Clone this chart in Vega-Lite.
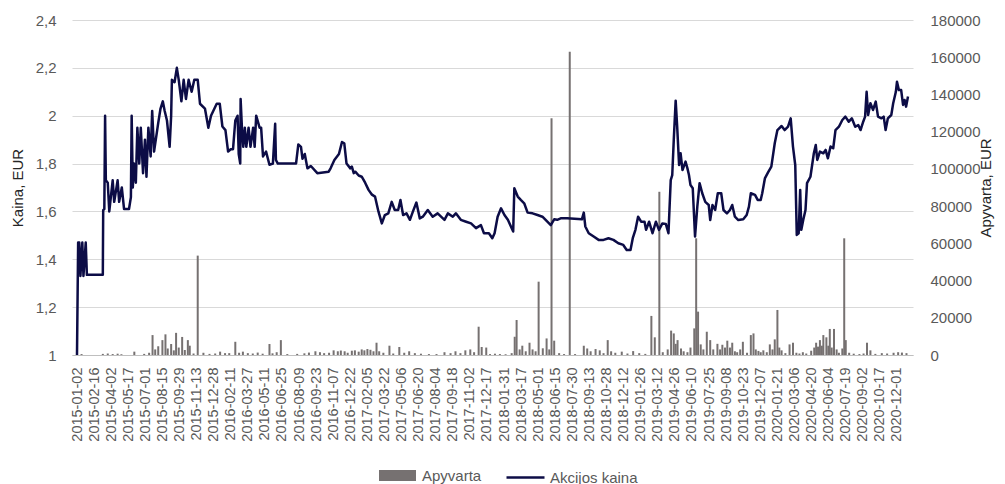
{
  "$schema": "https://vega.github.io/schema/vega-lite/v6.json",
  "width": 841,
  "height": 335,
  "autosize": {"type": "none"},
  "padding": {"left": 72, "top": 20, "right": 92, "bottom": 129},
  "background": "white",
  "config": {"font": "Liberation Sans", "view": {"stroke": null}, "axis": {"labelOverlap": false}, "axisX": {"labelOverlap": false, "labelFlush": false, "labelBound": false}},
  "datasets": {
    "price": [
      {"date":"2015-01-02","p":1.0},{"date":"2015-01-05","p":1.47},{"date":"2015-01-08","p":1.47},{"date":"2015-01-11","p":1.33},{"date":"2015-01-16","p":1.47},{"date":"2015-01-19","p":1.33},{"date":"2015-01-25","p":1.47},{"date":"2015-01-28","p":1.335},{"date":"2015-03-11","p":1.335},{"date":"2015-03-12","p":1.605},{"date":"2015-03-15","p":1.61},{"date":"2015-03-17","p":2.0},{"date":"2015-03-19","p":1.73},{"date":"2015-03-24","p":1.72},{"date":"2015-03-28","p":1.6},{"date":"2015-04-06","p":1.73},{"date":"2015-04-10","p":1.64},{"date":"2015-04-19","p":1.73},{"date":"2015-04-23","p":1.64},{"date":"2015-04-30","p":1.7},{"date":"2015-05-06","p":1.61},{"date":"2015-05-19","p":1.61},{"date":"2015-05-24","p":1.66},{"date":"2015-05-26","p":2.0},{"date":"2015-05-29","p":1.7},{"date":"2015-06-01","p":1.8},{"date":"2015-06-06","p":1.72},{"date":"2015-06-10","p":1.95},{"date":"2015-06-15","p":1.8},{"date":"2015-06-19","p":1.95},{"date":"2015-06-25","p":1.76},{"date":"2015-06-30","p":1.9},{"date":"2015-07-04","p":1.745},{"date":"2015-07-09","p":1.95},{"date":"2015-07-15","p":1.83},{"date":"2015-07-19","p":2.02},{"date":"2015-07-24","p":1.85},{"date":"2015-08-04","p":1.97},{"date":"2015-08-10","p":2.03},{"date":"2015-08-16","p":2.06},{"date":"2015-08-21","p":2.02},{"date":"2015-08-27","p":1.98},{"date":"2015-09-03","p":1.87},{"date":"2015-09-07","p":2.0},{"date":"2015-09-09","p":2.15},{"date":"2015-09-16","p":2.14},{"date":"2015-09-22","p":2.2},{"date":"2015-09-27","p":2.15},{"date":"2015-10-04","p":2.06},{"date":"2015-10-10","p":2.15},{"date":"2015-10-16","p":2.07},{"date":"2015-10-23","p":2.15},{"date":"2015-10-31","p":2.1},{"date":"2015-11-07","p":2.15},{"date":"2015-11-16","p":2.15},{"date":"2015-11-22","p":2.05},{"date":"2015-12-05","p":2.03},{"date":"2015-12-14","p":1.95},{"date":"2015-12-21","p":2.0},
      {"date":"2016-01-05","p":2.05},{"date":"2016-01-13","p":2.05},{"date":"2016-01-20","p":1.955},{"date":"2016-01-28","p":1.94},{"date":"2016-02-04","p":1.85},{"date":"2016-02-11","p":1.86},{"date":"2016-02-17","p":1.86},{"date":"2016-02-23","p":1.98},{"date":"2016-02-29","p":2.0},{"date":"2016-03-03","p":1.84},{"date":"2016-03-07","p":1.8},{"date":"2016-03-08","p":2.07},{"date":"2016-03-12","p":1.93},{"date":"2016-03-15","p":1.87},{"date":"2016-03-19","p":1.95},{"date":"2016-03-23","p":1.87},{"date":"2016-03-29","p":1.95},{"date":"2016-04-03","p":1.87},{"date":"2016-04-10","p":1.95},{"date":"2016-04-14","p":1.87},{"date":"2016-04-18","p":2.0},{"date":"2016-04-27","p":1.95},{"date":"2016-05-01","p":1.95},{"date":"2016-05-06","p":1.83},{"date":"2016-05-14","p":1.85},{"date":"2016-05-23","p":1.795},{"date":"2016-06-01","p":1.8},{"date":"2016-06-07","p":1.966},{"date":"2016-06-09","p":1.815},{"date":"2016-06-14","p":1.8},{"date":"2016-07-01","p":1.8},{"date":"2016-08-01","p":1.8},{"date":"2016-08-07","p":1.88},{"date":"2016-08-14","p":1.87},{"date":"2016-08-18","p":1.82},{"date":"2016-08-24","p":1.84},{"date":"2016-08-31","p":1.78},{"date":"2016-09-09","p":1.79},{"date":"2016-09-26","p":1.76},{"date":"2016-10-26","p":1.766},{"date":"2016-10-31","p":1.78},{"date":"2016-11-10","p":1.815},{"date":"2016-11-22","p":1.84},{"date":"2016-11-30","p":1.89},{"date":"2016-12-06","p":1.885},{"date":"2016-12-12","p":1.8},{"date":"2016-12-22","p":1.78},{"date":"2016-12-26","p":1.787},{"date":"2016-12-31","p":1.76},
      {"date":"2017-01-04","p":1.766},{"date":"2017-01-13","p":1.75},{"date":"2017-01-21","p":1.745},{"date":"2017-01-30","p":1.72},{"date":"2017-02-08","p":1.69},{"date":"2017-02-17","p":1.67},{"date":"2017-02-25","p":1.662},{"date":"2017-03-06","p":1.6},{"date":"2017-03-15","p":1.55},{"date":"2017-03-23","p":1.585},{"date":"2017-04-01","p":1.592},{"date":"2017-04-10","p":1.64},{"date":"2017-04-18","p":1.606},{"date":"2017-04-27","p":1.606},{"date":"2017-05-03","p":1.648},{"date":"2017-05-10","p":1.585},{"date":"2017-05-19","p":1.592},{"date":"2017-05-28","p":1.565},{"date":"2017-06-05","p":1.6},{"date":"2017-06-14","p":1.637},{"date":"2017-06-23","p":1.571},{"date":"2017-07-01","p":1.578},{"date":"2017-07-14","p":1.606},{"date":"2017-07-27","p":1.578},{"date":"2017-08-09","p":1.592},{"date":"2017-08-27","p":1.565},{"date":"2017-09-05","p":1.592},{"date":"2017-09-18","p":1.578},{"date":"2017-09-26","p":1.592},{"date":"2017-10-09","p":1.565},{"date":"2017-10-23","p":1.557},{"date":"2017-11-05","p":1.55},{"date":"2017-11-18","p":1.53},{"date":"2017-12-01","p":1.543},{"date":"2017-12-09","p":1.509},{"date":"2017-12-22","p":1.509},{"date":"2017-12-31","p":1.488},
      {"date":"2018-01-06","p":1.509},{"date":"2018-01-14","p":1.578},{"date":"2018-01-23","p":1.613},{"date":"2018-02-01","p":1.585},{"date":"2018-02-10","p":1.565},{"date":"2018-02-18","p":1.537},{"date":"2018-02-24","p":1.516},{"date":"2018-02-27","p":1.697},{"date":"2018-03-08","p":1.662},{"date":"2018-03-16","p":1.648},{"date":"2018-03-25","p":1.634},{"date":"2018-04-03","p":1.595},{"date":"2018-04-16","p":1.592},{"date":"2018-04-29","p":1.585},{"date":"2018-05-12","p":1.578},{"date":"2018-05-25","p":1.557},{"date":"2018-06-03","p":1.543},{"date":"2018-06-12","p":1.567},{"date":"2018-06-20","p":1.565},{"date":"2018-06-29","p":1.571},{"date":"2018-07-16","p":1.571},{"date":"2018-08-24","p":1.567},{"date":"2018-08-29","p":1.595},{"date":"2018-09-02","p":1.537},{"date":"2018-09-11","p":1.509},{"date":"2018-09-24","p":1.495},{"date":"2018-10-07","p":1.481},{"date":"2018-10-20","p":1.481},{"date":"2018-11-02","p":1.488},{"date":"2018-11-15","p":1.481},{"date":"2018-11-28","p":1.467},{"date":"2018-12-11","p":1.46},{"date":"2018-12-20","p":1.439},{"date":"2018-12-30","p":1.439},
      {"date":"2019-01-05","p":1.488},{"date":"2019-01-12","p":1.523},{"date":"2019-01-19","p":1.578},{"date":"2019-01-27","p":1.557},{"date":"2019-02-05","p":1.557},{"date":"2019-02-09","p":1.523},{"date":"2019-02-17","p":1.557},{"date":"2019-02-26","p":1.509},{"date":"2019-03-07","p":1.557},{"date":"2019-03-15","p":1.523},{"date":"2019-03-24","p":1.55},{"date":"2019-04-02","p":1.548},{"date":"2019-04-09","p":1.509},{"date":"2019-04-15","p":1.731},{"date":"2019-04-19","p":1.752},{"date":"2019-04-23","p":1.899},{"date":"2019-04-28","p":2.063},{"date":"2019-05-02","p":1.954},{"date":"2019-05-07","p":1.794},{"date":"2019-05-11","p":1.843},{"date":"2019-05-16","p":1.773},{"date":"2019-05-24","p":1.808},{"date":"2019-05-29","p":1.78},{"date":"2019-06-02","p":1.752},{"date":"2019-06-06","p":1.71},{"date":"2019-06-12","p":1.697},{"date":"2019-06-18","p":1.495},{"date":"2019-06-24","p":1.62},{"date":"2019-06-30","p":1.718},{"date":"2019-07-07","p":1.676},{"date":"2019-07-15","p":1.64},{"date":"2019-07-24","p":1.627},{"date":"2019-07-28","p":1.564},{"date":"2019-08-03","p":1.627},{"date":"2019-08-10","p":1.606},{"date":"2019-08-17","p":1.676},{"date":"2019-08-26","p":1.676},{"date":"2019-09-01","p":1.606},{"date":"2019-09-10","p":1.592},{"date":"2019-09-18","p":1.606},{"date":"2019-09-24","p":1.627},{"date":"2019-10-01","p":1.578},{"date":"2019-10-10","p":1.564},{"date":"2019-10-23","p":1.567},{"date":"2019-11-01","p":1.585},{"date":"2019-11-07","p":1.62},{"date":"2019-11-12","p":1.676},{"date":"2019-11-23","p":1.669},{"date":"2019-11-30","p":1.648},{"date":"2019-12-08","p":1.648},{"date":"2019-12-12","p":1.676},{"date":"2019-12-19","p":1.738},{"date":"2019-12-27","p":1.762},
      {"date":"2020-01-05","p":1.787},{"date":"2020-01-14","p":1.885},{"date":"2020-01-21","p":1.94},{"date":"2020-02-01","p":1.957},{"date":"2020-02-09","p":1.94},{"date":"2020-02-18","p":1.954},{"date":"2020-02-25","p":1.989},{"date":"2020-03-02","p":1.871},{"date":"2020-03-08","p":1.794},{"date":"2020-03-12","p":1.502},{"date":"2020-03-17","p":1.509},{"date":"2020-03-21","p":1.69},{"date":"2020-03-24","p":1.523},{"date":"2020-03-29","p":1.564},{"date":"2020-04-04","p":1.606},{"date":"2020-04-08","p":1.718},{"date":"2020-04-17","p":1.745},{"date":"2020-04-26","p":1.843},{"date":"2020-05-01","p":1.878},{"date":"2020-05-05","p":1.815},{"date":"2020-05-12","p":1.85},{"date":"2020-05-21","p":1.843},{"date":"2020-05-27","p":1.857},{"date":"2020-06-02","p":1.822},{"date":"2020-06-09","p":1.871},{"date":"2020-06-16","p":1.864},{"date":"2020-06-22","p":1.94},{"date":"2020-07-01","p":1.954},{"date":"2020-07-10","p":1.982},{"date":"2020-07-18","p":1.996},{"date":"2020-07-27","p":1.975},{"date":"2020-08-04","p":1.989},{"date":"2020-08-13","p":1.954},{"date":"2020-08-21","p":1.961},{"date":"2020-08-27","p":1.94},{"date":"2020-09-03","p":1.975},{"date":"2020-09-08","p":1.996},{"date":"2020-09-12","p":2.1},{"date":"2020-09-16","p":2.003},{"date":"2020-09-22","p":2.052},{"date":"2020-09-29","p":2.024},{"date":"2020-10-06","p":2.059},{"date":"2020-10-12","p":1.996},{"date":"2020-10-21","p":1.989},{"date":"2020-10-27","p":1.996},{"date":"2020-11-01","p":1.94},{"date":"2020-11-07","p":1.989},{"date":"2020-11-16","p":2.003},{"date":"2020-11-21","p":2.052},{"date":"2020-11-28","p":2.1},{"date":"2020-12-01","p":2.142},{"date":"2020-12-06","p":2.107},{"date":"2020-12-12","p":2.107},{"date":"2020-12-17","p":2.045},{"date":"2020-12-21","p":2.066},{"date":"2020-12-25","p":2.038},{"date":"2020-12-30","p":2.08}
    ],
    "vol": [
      {"date":"2015-01-14","v":500},{"date":"2015-03-11","v":600},{"date":"2015-03-24","v":800},{"date":"2015-04-06","v":500},{"date":"2015-04-19","v":700},{"date":"2015-04-29","v":400},{"date":"2015-06-02","v":1800},{"date":"2015-06-28","v":600},{"date":"2015-07-11","v":1200},{"date":"2015-07-20","v":10700},{"date":"2015-07-27","v":3000},{"date":"2015-08-04","v":4700},{"date":"2015-08-15","v":8000},{"date":"2015-08-23","v":11100},{"date":"2015-08-29","v":3500},{"date":"2015-09-07","v":5900},{"date":"2015-09-14","v":2500},{"date":"2015-09-20","v":11900},{"date":"2015-09-27","v":4000},{"date":"2015-10-06","v":9700},{"date":"2015-10-13","v":2700},{"date":"2015-10-21","v":8000},{"date":"2015-10-26","v":5000},{"date":"2015-11-05","v":800},{"date":"2015-11-16","v":53400},{"date":"2015-12-01","v":1200},{"date":"2015-12-17","v":600},
      {"date":"2016-01-01","v":800},{"date":"2016-01-14","v":1800},{"date":"2016-01-27","v":1000},{"date":"2016-02-07","v":1000},{"date":"2016-02-23","v":7100},{"date":"2016-03-04","v":1200},{"date":"2016-03-14","v":1800},{"date":"2016-03-27","v":1000},{"date":"2016-04-09","v":800},{"date":"2016-04-22","v":1300},{"date":"2016-05-05","v":700},{"date":"2016-05-23","v":5900},{"date":"2016-05-31","v":900},{"date":"2016-06-11","v":1500},{"date":"2016-06-22","v":8000},{"date":"2016-07-09","v":500},{"date":"2016-08-04","v":600},{"date":"2016-08-23","v":900},{"date":"2016-09-04","v":1300},{"date":"2016-09-21","v":2000},{"date":"2016-10-03","v":1500},{"date":"2016-10-14","v":1000},{"date":"2016-10-27","v":1200},{"date":"2016-11-08","v":2500},{"date":"2016-11-19","v":2000},{"date":"2016-11-27","v":2400},{"date":"2016-12-07","v":2000},{"date":"2016-12-15","v":1200},{"date":"2016-12-26","v":2300},
      {"date":"2017-01-03","v":2500},{"date":"2017-01-13","v":1800},{"date":"2017-01-21","v":3000},{"date":"2017-01-28","v":2500},{"date":"2017-02-05","v":3200},{"date":"2017-02-13","v":2800},{"date":"2017-02-21","v":2000},{"date":"2017-03-01","v":6600},{"date":"2017-03-08","v":2000},{"date":"2017-03-19","v":1200},{"date":"2017-04-04","v":5000},{"date":"2017-04-14","v":800},{"date":"2017-04-30","v":4300},{"date":"2017-05-13","v":1200},{"date":"2017-05-26","v":2000},{"date":"2017-06-10","v":1000},{"date":"2017-06-26","v":700},{"date":"2017-07-17","v":500},{"date":"2017-08-06","v":500},{"date":"2017-08-27","v":1500},{"date":"2017-09-12","v":1000},{"date":"2017-09-25","v":2000},{"date":"2017-10-08","v":1000},{"date":"2017-10-21","v":2500},{"date":"2017-11-03","v":3000},{"date":"2017-11-13","v":1500},{"date":"2017-11-25","v":15200},{"date":"2017-12-03","v":4300},{"date":"2017-12-15","v":4000},{"date":"2017-12-25","v":500},
      {"date":"2018-01-07","v":700},{"date":"2018-01-20","v":500},{"date":"2018-02-04","v":400},{"date":"2018-02-20","v":1000},{"date":"2018-02-28","v":9800},{"date":"2018-03-05","v":18800},{"date":"2018-03-13","v":3000},{"date":"2018-03-20","v":5000},{"date":"2018-03-29","v":2000},{"date":"2018-04-08","v":6600},{"date":"2018-04-16","v":3000},{"date":"2018-04-24","v":2000},{"date":"2018-05-02","v":39400},{"date":"2018-05-13","v":3600},{"date":"2018-05-23","v":8900},{"date":"2018-05-30","v":3000},{"date":"2018-06-05","v":127200},{"date":"2018-06-12","v":7700},{"date":"2018-06-25","v":1000},{"date":"2018-07-08","v":500},{"date":"2018-07-23","v":163000},{"date":"2018-08-06","v":500},{"date":"2018-08-29","v":5000},{"date":"2018-09-07","v":3500},{"date":"2018-09-16","v":2000},{"date":"2018-09-29","v":3200},{"date":"2018-10-10","v":2500},{"date":"2018-10-20","v":1000},{"date":"2018-10-31","v":8000},{"date":"2018-11-09","v":2000},{"date":"2018-11-20","v":1200},{"date":"2018-12-07","v":1800},{"date":"2018-12-22","v":800},
      {"date":"2019-01-06","v":2100},{"date":"2019-01-22","v":1000},{"date":"2019-02-07","v":600},{"date":"2019-02-23","v":21000},{"date":"2019-03-04","v":9500},{"date":"2019-03-16","v":87700},{"date":"2019-03-25","v":1500},{"date":"2019-04-07","v":3000},{"date":"2019-04-16","v":13100},{"date":"2019-04-23","v":11600},{"date":"2019-04-28","v":6000},{"date":"2019-05-03","v":8000},{"date":"2019-05-12","v":3500},{"date":"2019-05-19","v":2000},{"date":"2019-05-29","v":1500},{"date":"2019-06-06","v":4000},{"date":"2019-06-16","v":14300},{"date":"2019-06-21","v":62700},{"date":"2019-06-26","v":23300},{"date":"2019-07-03","v":5700},{"date":"2019-07-10","v":3000},{"date":"2019-07-19","v":12500},{"date":"2019-07-28","v":8000},{"date":"2019-08-05","v":3000},{"date":"2019-08-16","v":6000},{"date":"2019-08-23","v":3000},{"date":"2019-08-29","v":5500},{"date":"2019-09-05","v":4000},{"date":"2019-09-11","v":7700},{"date":"2019-09-18","v":4000},{"date":"2019-09-24","v":6600},{"date":"2019-10-01","v":2000},{"date":"2019-10-07","v":1500},{"date":"2019-10-15","v":3000},{"date":"2019-10-22","v":7100},{"date":"2019-11-02","v":1200},{"date":"2019-11-12","v":10700},{"date":"2019-11-19","v":11600},{"date":"2019-11-25","v":3000},{"date":"2019-12-02","v":2200},{"date":"2019-12-08","v":1500},{"date":"2019-12-15","v":2500},{"date":"2019-12-24","v":1500},
      {"date":"2020-01-01","v":5700},{"date":"2020-01-08","v":3000},{"date":"2020-01-14","v":8400},{"date":"2020-01-21","v":24200},{"date":"2020-01-26","v":4000},{"date":"2020-02-01","v":2500},{"date":"2020-02-11","v":1000},{"date":"2020-02-22","v":5700},{"date":"2020-03-02","v":6600},{"date":"2020-03-11","v":1200},{"date":"2020-03-19","v":800},{"date":"2020-03-28","v":1500},{"date":"2020-04-06","v":800},{"date":"2020-04-19","v":2300},{"date":"2020-04-27","v":4000},{"date":"2020-05-02","v":6600},{"date":"2020-05-07","v":4500},{"date":"2020-05-12","v":8000},{"date":"2020-05-17","v":5000},{"date":"2020-05-21","v":10700},{"date":"2020-05-29","v":9500},{"date":"2020-06-03","v":5000},{"date":"2020-06-07","v":14000},{"date":"2020-06-12","v":4000},{"date":"2020-06-18","v":14000},{"date":"2020-06-25","v":3000},{"date":"2020-07-01","v":1200},{"date":"2020-07-10","v":3500},{"date":"2020-07-15","v":62700},{"date":"2020-07-19","v":8000},{"date":"2020-07-28","v":1200},{"date":"2020-08-09","v":700},{"date":"2020-08-24","v":500},{"date":"2020-09-04","v":800},{"date":"2020-09-13","v":6600},{"date":"2020-09-22","v":2500},{"date":"2020-10-05","v":600},{"date":"2020-10-22","v":1000},{"date":"2020-11-05","v":800},{"date":"2020-11-22","v":1200},{"date":"2020-12-04","v":1500},{"date":"2020-12-14","v":1300},{"date":"2020-12-26","v":1000}
    ]
  },
  "encoding": {
    "x": {
      "field": "date", "type": "temporal",
      "scale": {"type": "utc", "domain": [{"year": 2015, "month": 1, "date": 2, "utc": true}, {"year": 2020, "month": 12, "date": 30, "utc": true}]},
      "axis": {
        "title": null,
        "values": [
          {"year":2015,"month":1,"date":2,"utc":true},{"year":2015,"month":2,"date":16,"utc":true},{"year":2015,"month":4,"date":2,"utc":true},{"year":2015,"month":5,"date":17,"utc":true},{"year":2015,"month":7,"date":1,"utc":true},{"year":2015,"month":8,"date":15,"utc":true},{"year":2015,"month":9,"date":29,"utc":true},{"year":2015,"month":11,"date":13,"utc":true},{"year":2015,"month":12,"date":28,"utc":true},
          {"year":2016,"month":2,"date":11,"utc":true},{"year":2016,"month":3,"date":27,"utc":true},{"year":2016,"month":5,"date":11,"utc":true},{"year":2016,"month":6,"date":25,"utc":true},{"year":2016,"month":8,"date":9,"utc":true},{"year":2016,"month":9,"date":23,"utc":true},{"year":2016,"month":11,"date":7,"utc":true},{"year":2016,"month":12,"date":22,"utc":true},
          {"year":2017,"month":2,"date":5,"utc":true},{"year":2017,"month":3,"date":22,"utc":true},{"year":2017,"month":5,"date":6,"utc":true},{"year":2017,"month":6,"date":20,"utc":true},{"year":2017,"month":8,"date":4,"utc":true},{"year":2017,"month":9,"date":18,"utc":true},{"year":2017,"month":11,"date":2,"utc":true},{"year":2017,"month":12,"date":17,"utc":true},
          {"year":2018,"month":1,"date":31,"utc":true},{"year":2018,"month":3,"date":17,"utc":true},{"year":2018,"month":5,"date":1,"utc":true},{"year":2018,"month":6,"date":15,"utc":true},{"year":2018,"month":7,"date":30,"utc":true},{"year":2018,"month":9,"date":13,"utc":true},{"year":2018,"month":10,"date":28,"utc":true},{"year":2018,"month":12,"date":12,"utc":true},
          {"year":2019,"month":1,"date":26,"utc":true},{"year":2019,"month":3,"date":12,"utc":true},{"year":2019,"month":4,"date":26,"utc":true},{"year":2019,"month":6,"date":10,"utc":true},{"year":2019,"month":7,"date":25,"utc":true},{"year":2019,"month":9,"date":8,"utc":true},{"year":2019,"month":10,"date":23,"utc":true},{"year":2019,"month":12,"date":7,"utc":true},
          {"year":2020,"month":1,"date":21,"utc":true},{"year":2020,"month":3,"date":6,"utc":true},{"year":2020,"month":4,"date":20,"utc":true},{"year":2020,"month":6,"date":4,"utc":true},{"year":2020,"month":7,"date":19,"utc":true},{"year":2020,"month":9,"date":2,"utc":true},{"year":2020,"month":10,"date":17,"utc":true},{"year":2020,"month":12,"date":1,"utc":true}
        ],
        "labelExpr": "utcFormat(datum.value, '%Y-%m-%d')",
        "labelAngle": -90,
        "labelAlign": "right",
        "labelBaseline": "middle",
        "labelPadding": 12,
        "labelFontSize": 14.5,
        "labelColor": "#595959",
        "labelOverlap": false,
        "labelSeparation": 0,
        "labelFlush": false,
        "labelBound": false,
        "ticks": false,
        "grid": false,
        "domain": true,
        "domainColor": "#bfbfbf",
        "domainWidth": 1
      }
    }
  },
  "layer": [
    {
      "data": {"name": "vol"},
      "mark": {"type": "bar", "size": 2},
      "encoding": {
        "y": {
          "field": "v", "type": "quantitative",
          "scale": {"domain": [0, 180000], "nice": false},
          "axis": {
            "orient": "right",
            "title": "Apyvarta, EUR",
            "titleAngle": 270,
            "titleFontSize": 15,
            "titleFontWeight": "normal",
            "titleColor": "#262626",
            "titlePadding": 13,
            "values": [0, 20000, 40000, 60000, 80000, 100000, 120000, 140000, 160000, 180000],
            "format": "d",
            "labelFontSize": 15,
            "labelColor": "#595959",
            "labelPadding": 17,
            "ticks": false,
            "domain": false,
            "grid": false
          }
        },
        "fill": {
          "datum": "Apyvarta",
          "scale": {"range": ["#767171"]},
          "legend": {
            "orient": "none",
            "legendX": 307,
            "legendY": 437,
            "title": null,
            "symbolType": "M-1,-0.3H1V0.3H-1Z",
            "symbolSize": 1369,
            "symbolStrokeWidth": 0,
            "labelFontSize": 15,
            "labelColor": "#595959",
            "labelOffset": 6
          }
        }
      }
    },
    {
      "data": {"name": "price"},
      "mark": {"type": "line", "strokeWidth": 2.5, "strokeJoin": "round"},
      "encoding": {
        "y": {
          "field": "p", "type": "quantitative",
          "scale": {"domain": [1, 2.4], "nice": false, "zero": false},
          "axis": {
            "orient": "left",
            "title": "Kaina, EUR",
            "titleFontSize": 15,
            "titleFontWeight": "normal",
            "titleColor": "#262626",
            "titlePadding": 10,
            "values": [1, 1.2, 1.4, 1.6, 1.8, 2, 2.2, 2.4],
            "labelExpr": "replace(format(datum.value, '.1~f'), '.', ',')",
            "labelFontSize": 15,
            "labelColor": "#595959",
            "labelPadding": 16,
            "ticks": false,
            "domain": false,
            "grid": true,
            "gridColor": "#d9d9d9",
            "gridWidth": 1
          }
        },
        "stroke": {
          "datum": "Akcijos kaina",
          "scale": {"range": ["#0c0c46"]},
          "legend": {
            "orient": "none",
            "legendX": 433,
            "legendY": 437,
            "title": null,
            "symbolType": "stroke",
            "symbolSize": 1444,
            "symbolStrokeWidth": 2.5,
            "labelFontSize": 15,
            "labelColor": "#595959",
            "labelOffset": 4
          }
        }
      }
    }
  ],
  "resolve": {"scale": {"y": "independent"}}
}
